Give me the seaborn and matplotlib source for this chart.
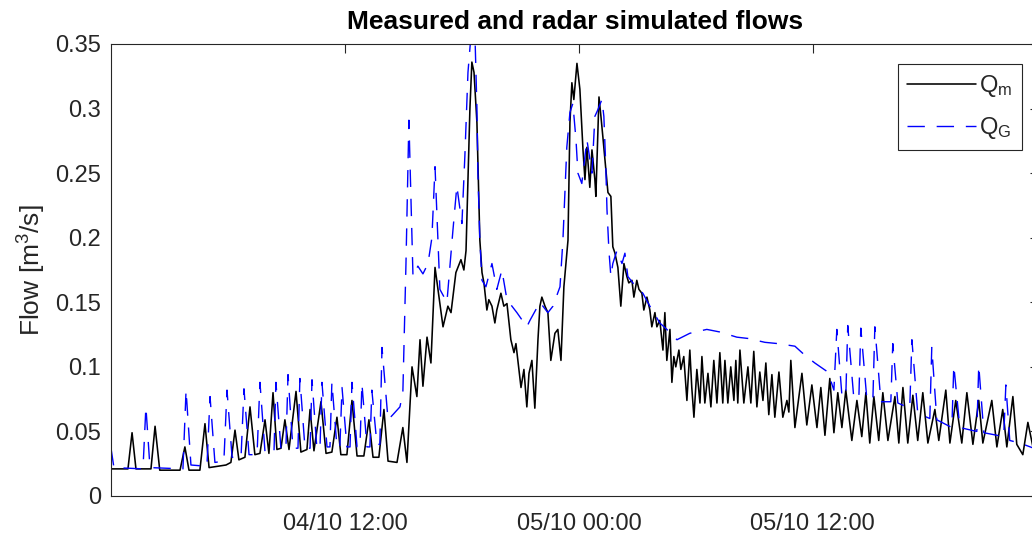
import matplotlib
matplotlib.use("Agg")
import numpy as np
import pandas as pd
import seaborn as sns
import matplotlib.pyplot as plt
import matplotlib.dates as mdates

# ---------------- data (hours after 04/10 00:00, flow in m3/s) ----------------
START = "2015-10-04 00:00"

qm_hours = [
    0.00, 0.87, 1.08, 1.28, 2.05, 2.26, 2.50, 3.54, 3.79, 4.00,
    4.56, 4.82, 5.03, 5.90, 6.15, 6.36, 6.56, 6.87, 7.13, 7.38,
    7.64, 7.90, 8.10, 8.31, 8.51, 8.72, 8.92, 9.13, 9.49, 9.74,
    10.05, 10.21, 10.41, 10.77, 11.03, 11.33, 11.59, 11.79, 12.10, 12.36,
    12.62, 12.97, 13.23, 13.44, 13.74, 14.00, 14.21, 14.67, 14.97, 15.18,
    15.44, 15.69, 15.85, 16.00, 16.21, 16.41, 16.62, 17.03, 17.28, 17.44,
    17.69, 17.95, 18.10, 18.21, 18.41, 18.51, 18.62, 18.77, 18.92, 19.03,
    19.13, 19.28, 19.38, 19.54, 19.69, 19.79, 20.00, 20.15, 20.31, 20.51,
    20.67, 20.77, 20.87, 21.03, 21.18, 21.33, 21.44, 21.59, 21.74, 21.90,
    22.00, 22.10, 22.26, 22.41, 22.56, 22.77, 22.92, 23.08, 23.23, 23.44,
    23.54, 23.64, 23.74, 23.90, 24.05, 24.21, 24.31, 24.41, 24.56, 24.67,
    24.82, 24.87, 25.03, 25.13, 25.23, 25.49, 25.64, 25.74, 25.85, 26.00,
    26.15, 26.31, 26.46, 26.56, 26.72, 26.82, 26.97, 27.08, 27.23, 27.33,
    27.49, 27.64, 27.74, 27.90, 28.00, 28.15, 28.31, 28.41, 28.51, 28.67,
    28.77, 28.87, 28.97, 29.13, 29.23, 29.38, 29.54, 29.69, 29.79, 29.90,
    30.05, 30.21, 30.31, 30.46, 30.62, 30.77, 30.92, 31.08, 31.23, 31.38,
    31.49, 31.64, 31.79, 31.95, 32.05, 32.15, 32.26, 32.46, 32.67, 32.82,
    32.97, 33.13, 33.28, 33.44, 33.59, 33.74, 33.90, 34.05, 34.26, 34.46,
    34.67, 34.77, 34.87, 35.08, 35.44, 35.69, 35.95, 36.21, 36.41, 36.62,
    36.87, 37.08, 37.28, 37.49, 37.69, 38.00, 38.26, 38.51, 38.72, 38.92,
    39.13, 39.38, 39.59, 39.85, 40.21, 40.41, 40.62, 40.87, 41.13, 41.38,
    41.64, 41.90, 42.26, 42.46, 42.82, 43.03, 43.33, 43.64, 43.90, 44.21,
    44.51, 44.72, 45.18, 45.44, 45.74, 45.95, 46.26, 46.46, 46.77, 47.03,
    47.33,
]
qm_flow = [
    0.021, 0.021, 0.049, 0.021, 0.021, 0.054, 0.020, 0.020, 0.038, 0.020,
    0.020, 0.056, 0.022, 0.024, 0.026, 0.051, 0.028, 0.030, 0.069, 0.032,
    0.033, 0.059, 0.033, 0.080, 0.036, 0.037, 0.059, 0.036, 0.081, 0.034,
    0.036, 0.067, 0.035, 0.073, 0.033, 0.034, 0.061, 0.032, 0.032, 0.074,
    0.031, 0.031, 0.059, 0.030, 0.030, 0.067, 0.027, 0.026, 0.053, 0.026,
    0.100, 0.077, 0.121, 0.085, 0.123, 0.103, 0.177, 0.131, 0.147, 0.142,
    0.173, 0.183, 0.175, 0.190, 0.300, 0.336, 0.328, 0.289, 0.198, 0.173,
    0.165, 0.144, 0.152, 0.147, 0.134, 0.144, 0.157, 0.147, 0.149, 0.121,
    0.111, 0.118, 0.105, 0.084, 0.098, 0.069, 0.095, 0.105, 0.068, 0.121,
    0.147, 0.154, 0.147, 0.142, 0.105, 0.126, 0.129, 0.105, 0.162, 0.198,
    0.289, 0.320, 0.307, 0.335, 0.315, 0.268, 0.245, 0.270, 0.239, 0.268,
    0.245, 0.232, 0.309, 0.294, 0.278, 0.235, 0.232, 0.193, 0.188, 0.177,
    0.147, 0.180, 0.170, 0.165, 0.167, 0.154, 0.167, 0.160, 0.157, 0.144,
    0.154, 0.144, 0.131, 0.142, 0.131, 0.136, 0.113, 0.142, 0.105, 0.129,
    0.088, 0.108, 0.100, 0.113, 0.098, 0.108, 0.074, 0.113, 0.084, 0.061,
    0.098, 0.072, 0.108, 0.072, 0.095, 0.069, 0.105, 0.072, 0.111, 0.072,
    0.105, 0.072, 0.100, 0.074, 0.105, 0.072, 0.113, 0.072, 0.100, 0.072,
    0.112, 0.069, 0.096, 0.074, 0.103, 0.063, 0.094, 0.061, 0.096, 0.061,
    0.074, 0.065, 0.105, 0.053, 0.095, 0.055, 0.086, 0.053, 0.084, 0.047,
    0.091, 0.049, 0.080, 0.053, 0.082, 0.043, 0.074, 0.046, 0.080, 0.041,
    0.077, 0.043, 0.080, 0.043, 0.077, 0.041, 0.084, 0.041, 0.078, 0.043,
    0.080, 0.041, 0.067, 0.043, 0.082, 0.041, 0.074, 0.041, 0.080, 0.040,
    0.074, 0.041, 0.074, 0.038, 0.067, 0.038, 0.077, 0.040, 0.032, 0.057,
    0.035,
]

qg_hours = [
    0.00, 0.15, 1.64, 1.79, 2.00, 3.69, 3.85, 4.10, 4.92, 5.08,
    5.33, 5.79, 5.95, 6.21, 6.67, 6.82, 7.08, 7.49, 7.64, 7.90,
    8.36, 8.46, 8.72, 8.97, 9.08, 9.33, 9.59, 9.69, 9.95, 10.21,
    10.31, 10.56, 10.72, 10.82, 11.08, 11.23, 11.33, 11.59, 11.74, 11.85,
    12.10, 12.26, 12.36, 12.62, 12.77, 12.87, 13.13, 13.28, 13.38, 13.64,
    13.79, 13.90, 14.21, 14.46, 14.82, 14.97, 15.13, 15.28, 15.49, 15.74,
    16.00, 16.26, 16.46, 16.62, 16.87, 17.23, 17.54, 17.74, 18.00, 18.15,
    18.31, 18.46, 18.67, 18.77, 18.82, 18.92, 19.03, 19.23, 19.54, 19.79,
    20.05, 20.31, 20.82, 21.33, 21.49, 22.00, 22.41, 22.67, 23.03, 23.18,
    23.38, 23.54, 23.69, 23.85, 23.95, 24.15, 24.41, 24.67, 24.82, 24.97,
    25.18, 25.28, 25.38, 25.44, 25.54, 25.64, 25.74, 25.95, 26.21, 26.36,
    26.51, 26.77, 27.28, 27.64, 28.15, 28.51, 29.03, 29.69, 30.56, 31.23,
    32.10, 32.67, 33.54, 34.21, 35.08, 35.59, 36.10, 36.77, 37.08, 37.23,
    37.49, 37.69, 37.79, 38.10, 38.36, 38.46, 38.77, 39.08, 39.18, 39.49,
    40.00, 40.10, 40.36, 40.97, 41.08, 41.38, 42.00, 42.10, 42.36, 43.13,
    43.23, 43.54, 44.41, 44.51, 44.77, 45.79, 45.90, 46.10, 46.62, 47.33,
]
qg_flow = [
    0.037, 0.022, 0.021, 0.069, 0.022, 0.021, 0.082, 0.024, 0.023, 0.077,
    0.026, 0.027, 0.082, 0.030, 0.030, 0.083, 0.032, 0.032, 0.088, 0.034,
    0.034, 0.088, 0.036, 0.036, 0.094, 0.037, 0.037, 0.091, 0.037, 0.037,
    0.090, 0.037, 0.037, 0.088, 0.038, 0.038, 0.088, 0.038, 0.038, 0.084,
    0.038, 0.038, 0.088, 0.038, 0.038, 0.087, 0.038, 0.038, 0.082, 0.040,
    0.040, 0.115, 0.059, 0.063, 0.069, 0.080, 0.180, 0.291, 0.170, 0.178,
    0.172, 0.180, 0.200, 0.255, 0.160, 0.150, 0.206, 0.240, 0.211, 0.263,
    0.328, 0.356, 0.356, 0.300, 0.250, 0.198, 0.167, 0.162, 0.180, 0.160,
    0.175, 0.152, 0.142, 0.131, 0.136, 0.150, 0.142, 0.147, 0.162, 0.198,
    0.270, 0.297, 0.304, 0.276, 0.250, 0.242, 0.276, 0.250, 0.294, 0.299,
    0.307, 0.294, 0.255, 0.222, 0.190, 0.170, 0.180, 0.190, 0.180, 0.188,
    0.170, 0.165, 0.157, 0.147, 0.134, 0.129, 0.121, 0.126, 0.129, 0.127,
    0.123, 0.122, 0.119, 0.118, 0.116, 0.109, 0.103, 0.096, 0.082, 0.129,
    0.078, 0.077, 0.132, 0.076, 0.076, 0.130, 0.075, 0.075, 0.131, 0.073,
    0.073, 0.118, 0.072, 0.068, 0.121, 0.064, 0.060, 0.115, 0.059, 0.053,
    0.101, 0.053, 0.050, 0.101, 0.049, 0.046, 0.086, 0.043, 0.041, 0.037,
]

x_tick_hours = [12, 24, 36]
y_ticks = [0, 0.05, 0.1, 0.15, 0.2, 0.25, 0.3, 0.35]
y_tick_labels = ["0", "0.05", "0.1", "0.15", "0.2", "0.25", "0.3", "0.35"]
x_end_hours = 47.6

title_text = "Measured and radar simulated flows"
ylabel_text = "Flow [m$^3$/s]"
label_m = "Q$_m$"
label_g = "Q$_G$"

# ---------------- styling ----------------
sns.set_theme(style="white")
plt.rcParams["font.family"] = ["Liberation Sans", "DejaVu Sans"]
plt.rcParams["mathtext.default"] = "regular"
DARK = "#262626"

start = pd.Timestamp(START)
qm_df = pd.DataFrame({"time": start + pd.to_timedelta(qm_hours, unit="h"), "flow": qm_flow})
qg_df = pd.DataFrame({"time": start + pd.to_timedelta(qg_hours, unit="h"), "flow": qg_flow})

fig = plt.figure(figsize=(10.32, 5.37), dpi=100)
ax = fig.add_axes([111 / 1032, 41 / 537, 928 / 1032, 452 / 537])

sns.lineplot(data=qm_df, x="time", y="flow", ax=ax, color="black",
             linewidth=1.15, estimator=None, sort=False, label=label_m)
sns.lineplot(data=qg_df, x="time", y="flow", ax=ax, color="#0000ff",
             linewidth=1.0, estimator=None, sort=False, label=label_g)
ax.lines[-1].set_dashes([12.5, 8.5])

ax.set_xlim(start, start + pd.Timedelta(hours=x_end_hours))
ax.set_ylim(0, 0.35)
ax.set_xticks([start + pd.Timedelta(hours=h) for h in x_tick_hours])
ax.xaxis.set_major_formatter(mdates.DateFormatter("%d/%m %H:%M"))
ax.set_yticks(y_ticks)
ax.set_yticklabels(y_tick_labels)

ax.tick_params(axis="both", direction="in", top=True, right=True,
               length=6.5, width=0.8, color=DARK, labelcolor=DARK, labelsize=17)
ax.tick_params(axis="x", pad=12)
ax.tick_params(axis="y", pad=7)
for sp in ax.spines.values():
    sp.set_color(DARK)
    sp.set_linewidth(0.8)
ax.grid(False)

ax.set_xlabel("")
ax.set_ylabel(ylabel_text, fontsize=19, color=DARK, labelpad=5)
ax.set_title(title_text, fontsize=19, fontweight="bold", color="black", pad=11)

leg = ax.legend(loc="upper right", bbox_to_anchor=(1022 / 1032, 1 - 64 / 537),
                bbox_transform=fig.transFigure, borderaxespad=0,
                fontsize=17, handlelength=2.9, handletextpad=0.15,
                labelspacing=0.65, borderpad=0.4, fancybox=False,
                framealpha=1, edgecolor=DARK)
leg.get_frame().set_linewidth(0.8)

fig.savefig("out.png", dpi=100)
